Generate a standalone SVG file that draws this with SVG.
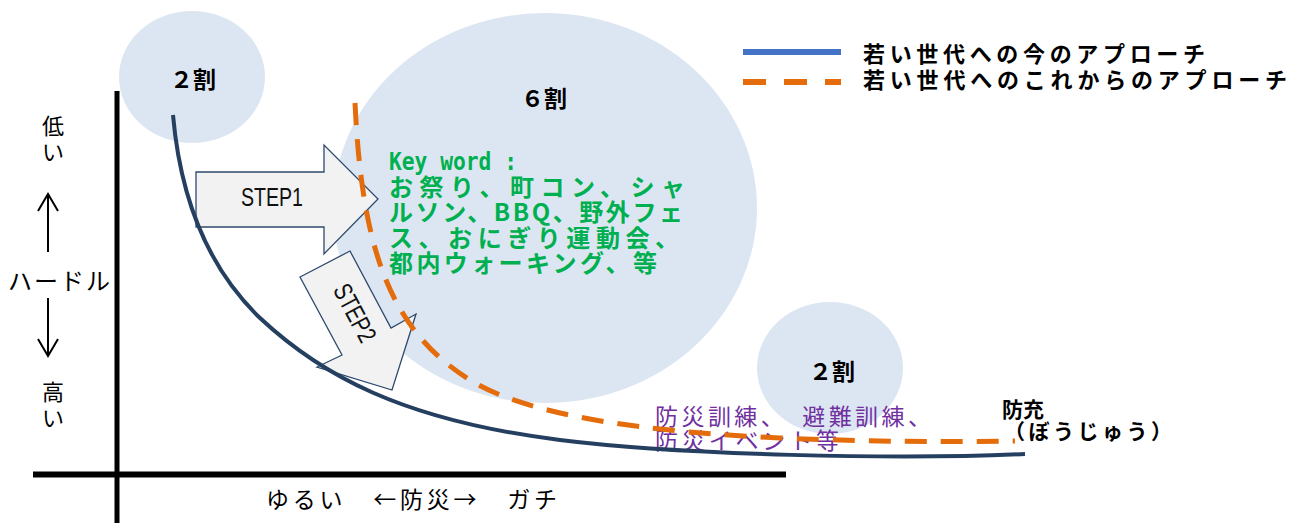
<svg xmlns="http://www.w3.org/2000/svg" width="1300" height="523" viewBox="0 0 1300 523">
<style>
.bub{fill:#DCE6F2;}
.step{fill:#F2F2F2;stroke:#2E4A6E;stroke-width:1.3;}
.jp{font-family:"Noto Sans CJK JP","Liberation Sans",sans-serif;fill:#000;}
.b{font-weight:bold;}
.grn{fill:#00B050;font-weight:bold;font-size:24px;}
.pur{fill:#7030A0;font-size:23px;}
.lat{font-family:"Liberation Sans",Arial,sans-serif;font-size:26px;fill:#111;}
.axis{stroke:#000;fill:none;}
.now{stroke:#243F60;stroke-width:4;fill:none;}
.future{stroke:#E46C0A;stroke-width:5;fill:none;stroke-dasharray:22 14;}
.thin{stroke:#000;stroke-width:2;fill:none;}
</style>
<rect width="1300" height="523" fill="#fff"/>

<g id="bubble-left">
<ellipse class="bub" cx="192" cy="77" rx="73" ry="66"/>
<text class="jp b" x="193" y="88" font-size="23" text-anchor="middle">２割</text>
</g>
<g id="bubble-center">
<ellipse class="bub" cx="545" cy="208" rx="212" ry="195"/>
<text class="jp b" x="544" y="107" font-size="23" text-anchor="middle">６割</text>
<text class="grn" x="389" y="170" font-family="'DejaVu Sans Mono','Liberation Mono',monospace" textLength="128" lengthAdjust="spacingAndGlyphs">Key word :</text>
<text class="jp grn" x="389" y="196" textLength="296" lengthAdjust="spacing">お祭り、町コン、シャ</text>
<text class="jp grn" x="389" y="221" textLength="294" lengthAdjust="spacing">ルソン、BBQ、野外フェ</text>
<text class="jp grn" x="389" y="247" textLength="290" lengthAdjust="spacing">ス、おにぎり運動会、</text>
<text class="jp grn" x="389" y="272" textLength="268" lengthAdjust="spacing">都内ウォーキング、等</text>
</g>
<g id="bubble-right">
<ellipse class="bub" cx="830" cy="368" rx="73" ry="66"/>
<text class="jp b" x="832" y="380" font-size="23" text-anchor="middle">２割</text>
</g>

<g id="step1">
<polygon class="step" points="196,172 324,172 324,145 378,199 324,254 324,227 196,227"/>
<text class="lat" x="241" y="206" textLength="62" lengthAdjust="spacingAndGlyphs">STEP1</text>
</g>
<g id="step2">
<polygon class="step" points="300,277 350,251 391,328 416,314 392,390 317,367 342,355"/>
<text class="lat" transform="translate(355,313) rotate(62)" x="0" y="9" text-anchor="middle" textLength="62" lengthAdjust="spacingAndGlyphs">STEP2</text>
</g>

<g id="bousai-events">
<text class="jp pur" x="655" y="425" textLength="276" lengthAdjust="spacing">防災訓練、　避難訓練、</text>
<text class="jp pur" x="655" y="449" textLength="184" lengthAdjust="spacing">防災イベント等</text>
</g>

<g id="connectors">
<line class="axis" x1="117" y1="91" x2="117" y2="523" stroke-width="5"/>
<line class="axis" x1="33" y1="474.5" x2="786" y2="474.5" stroke-width="6"/>
<path class="now" d="M173,115 C180,195 205,265 260,318 C320,374 400,420 560,440 C680,455 900,460 1025,454"/>
<path class="future" d="M355,103 C362,250 390,330 470,380 C530,417 650,432 780,438 C880,442 950,442 1015,441"/>
</g>

<g id="boujuu">
<text class="jp b" x="1002" y="417" font-size="21">防充</text>
<text class="jp b" x="1004" y="439" font-size="21" textLength="168" lengthAdjust="spacing">（ぼうじゅう）</text>
</g>

<g id="y-axis-label">
<text class="jp" x="53" y="134" font-size="22" text-anchor="middle">低</text>
<text class="jp" x="53" y="160" font-size="22" text-anchor="middle">い</text>
<path class="thin" d="M48,252 V194 M38,211 L48,194 L58,211"/>
<text class="jp" x="8" y="290" font-size="24" textLength="102" lengthAdjust="spacing">ハードル</text>
<path class="thin" d="M48,298 V356 M38,339 L48,356 L58,339"/>
<text class="jp" x="53" y="400" font-size="22" text-anchor="middle">高</text>
<text class="jp" x="53" y="426" font-size="22" text-anchor="middle">い</text>
</g>

<g id="x-axis-label">
<text class="jp" x="266" y="508" font-size="23" textLength="291" lengthAdjust="spacing">ゆるい　←防災→　ガチ</text>
</g>

<g id="legend">
<line x1="743" y1="52" x2="841" y2="52" stroke="#4472C4" stroke-width="6"/>
<line x1="743" y1="82" x2="841" y2="82" stroke="#E46C0A" stroke-width="6" stroke-dasharray="23 18"/>
<text class="jp b" x="863" y="62" font-size="22" textLength="342" lengthAdjust="spacing">若い世代への今のアプローチ</text>
<text class="jp b" x="863" y="88" font-size="22" textLength="424" lengthAdjust="spacing">若い世代へのこれからのアプローチ</text>
</g>
</svg>
